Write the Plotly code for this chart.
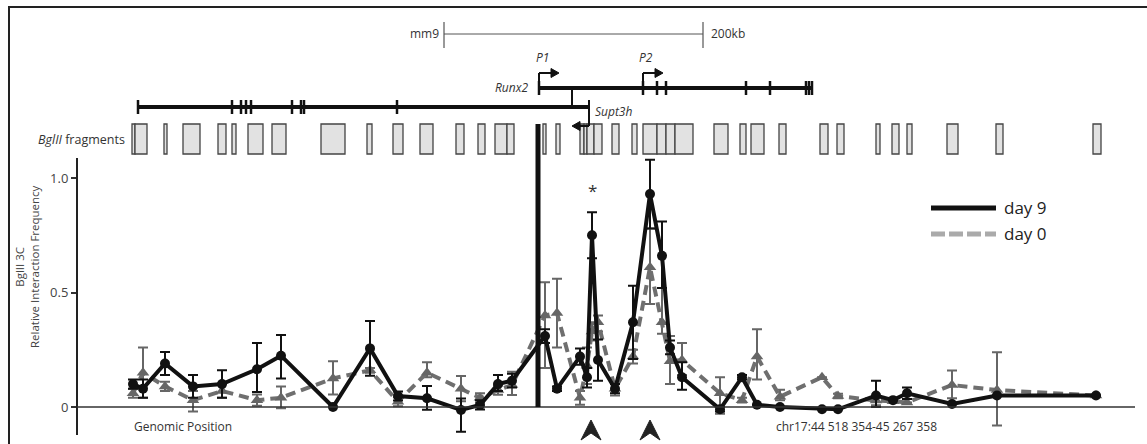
import plotly.graph_objects as go

# ---------------- data ----------------
# fragment positions (genomic position, arbitrary units along the locus)
positions = [133, 143, 165, 193, 222, 257, 281, 333, 370, 398, 427, 461, 480, 498, 512,
             545, 557, 580, 587, 592, 598, 615, 633, 650, 662, 670, 682, 720, 742, 757,
             780, 822, 838, 876, 893, 907, 952, 997, 1096]
day9 = [0.10, 0.08, 0.19, 0.09, 0.10, 0.165, 0.224, 0.0, 0.256, 0.048, 0.038, -0.013, 0.009, 0.10, 0.115,
        0.31, 0.08, 0.22, 0.13, 0.75, 0.205, 0.08, 0.37, 0.93, 0.66, 0.26, 0.13, -0.01, 0.13, 0.01,
        0.0, -0.01, -0.01, 0.05, 0.03, 0.06, 0.013, 0.05, 0.05]
day9_hi = [0.02, 0.04, 0.05, 0.05, 0.06, 0.115, 0.09, 0.0, 0.12, 0.02, 0.054, 0.05, 0.02, 0.04, 0.03,
           0.03, 0.01, 0.035, 0.04, 0.10, 0.09, 0.02, 0.16, 0.15, 0.15, 0.03, 0.065, 0.01, 0.01, 0.0,
           0.0, 0.0, 0.0, 0.065, 0.0, 0.025, 0.0, 0.0, 0.0]
day9_lo = [0.02, 0.04, 0.05, 0.05, 0.06, 0.10, 0.10, 0.0, 0.12, 0.02, 0.05, 0.095, 0.02, 0.03, 0.03,
           0.03, 0.01, 0.035, 0.045, 0.10, 0.09, 0.02, 0.16, 0.15, 0.14, 0.03, 0.055, 0.01, 0.01, 0.0,
           0.0, 0.0, 0.0, 0.05, 0.0, 0.025, 0.0, 0.0, 0.0]
day0 = [0.06, 0.15, 0.09, 0.03, 0.07, 0.03, 0.04, 0.125, 0.16, 0.023, 0.15, 0.08, 0.04, 0.074, 0.096,
        0.40, 0.41, 0.04, 0.18, 0.33, 0.37, 0.08, 0.22, 0.61, 0.37, 0.20, 0.205, 0.06, 0.03, 0.22,
        0.045, 0.13, 0.048, 0.028, 0.025, 0.02, 0.096, 0.074, 0.05]
day0_hi = [0.02, 0.11, 0.02, 0.04, 0.03, 0.025, 0.05, 0.075, 0.01, 0.02, 0.045, 0.055, 0.02, 0.02, 0.058,
           0.145, 0.15, 0.03, 0.08, 0.04, 0.03, 0.03, 0.03, 0.17, 0.15, 0.11, 0.075, 0.07, 0.01, 0.12,
           0.03, 0.0, 0.01, 0.02, 0.0, 0.0, 0.063, 0.165, 0.0]
day0_lo = [0.02, 0.11, 0.02, 0.05, 0.03, 0.025, 0.045, 0.07, 0.01, 0.02, 0.02, 0.055, 0.02, 0.02, 0.044,
           0.23, 0.15, 0.03, 0.08, 0.04, 0.04, 0.03, 0.03, 0.16, 0.05, 0.10, 0.065, 0.09, 0.01, 0.10,
           0.015, 0.0, 0.01, 0.02, 0.0, 0.0, 0.058, 0.155, 0.0]

# BglII fragments (start, end)
frag_start = [132, 135, 164, 183, 218, 232, 248, 272, 321, 367, 393, 420, 456, 478, 495, 507,
              543, 556, 580, 584, 587, 594, 612, 632, 643, 657, 666, 675, 714, 740, 751, 779,
              820, 837, 876, 892, 907, 947, 996, 1093]
frag_end = [135, 147, 167, 200, 226, 236, 263, 286, 345, 372, 403, 433, 464, 485, 507, 514,
            546, 560, 584, 587, 594, 602, 619, 637, 657, 666, 675, 693, 728, 746, 764, 786,
            828, 844, 880, 899, 912, 958, 1003, 1101]

# genes
runx2_start, runx2_end = 539, 813
runx2_exons = [539, 643, 657, 666, 746, 770, 806, 809, 812]
runx2_promoters = [539, 643]
promoter_labels = ["P1", "P2"]
supt3h_start, supt3h_end = 138, 589
supt3h_exons = [138, 232, 241, 246, 251, 292, 301, 304, 397]
viewpoint = 538
scale_bar = [444, 703]
highlighted = [591, 650]
star_pos, star_val = 592, 0.945

W, H = 1147, 444
def py(p):  # pixel row -> paper fraction
    return 1 - p / H

def px(p):
    return p / W

FONT = "Open Sans"
TXT = "#333333"

fig = go.Figure()

fig.add_trace(go.Scatter(
    x=positions, y=day0, mode="lines+markers", name="day 0", showlegend=False,
    line=dict(color="#6f6f6f", width=4, dash="10px,6px"),
    marker=dict(symbol="triangle-up", size=11, color="#666666"),
    error_y=dict(type="data", symmetric=False, array=day0_hi, arrayminus=day0_lo,
                 color="#666666", thickness=2, width=5),
    cliponaxis=False))
fig.add_trace(go.Scatter(
    x=positions, y=day9, mode="lines+markers", name="day 9", showlegend=False,
    line=dict(color="#111111", width=4),
    marker=dict(symbol="circle", size=10, color="#111111"),
    error_y=dict(type="data", symmetric=False, array=day9_hi, arrayminus=day9_lo,
                 color="#111111", thickness=2, width=5),
    cliponaxis=False))

shapes = []
# frame
shapes.append(dict(type="line", xref="paper", yref="paper", x0=px(9), x1=px(9), y0=py(6), y1=0,
                   line=dict(color="#222", width=2)))
shapes.append(dict(type="line", xref="paper", yref="paper", x0=px(8), x1=1, y0=py(7), y1=py(7),
                   line=dict(color="#222", width=2)))
# zero line
shapes.append(dict(type="line", xref="x", yref="y", x0=77, x1=1135, y0=0, y1=0,
                   line=dict(color="#333", width=1.5)))
# viewpoint
shapes.append(dict(type="line", xref="x", yref="paper", x0=viewpoint, x1=viewpoint, y0=py(407), y1=py(124),
                   line=dict(color="#111", width=5)))
# fragments
for s, e in zip(frag_start, frag_end):
    shapes.append(dict(type="rect", xref="x", yref="paper", x0=s, x1=e, y0=py(154), y1=py(124),
                       fillcolor="#e2e2e2", line=dict(color="#444", width=1.3)))
# scale bar
shapes.append(dict(type="line", xref="x", yref="paper", x0=scale_bar[0], x1=scale_bar[1], y0=py(34), y1=py(34),
                   line=dict(color="#555", width=1)))
for b in scale_bar:
    shapes.append(dict(type="line", xref="x", yref="paper", x0=b, x1=b, y0=py(22), y1=py(48),
                       line=dict(color="#555", width=1.2)))
# Runx2
shapes.append(dict(type="line", xref="x", yref="paper", x0=runx2_start, x1=runx2_end, y0=py(88), y1=py(88),
                   line=dict(color="#111", width=4)))
for e in runx2_exons:
    shapes.append(dict(type="line", xref="x", yref="paper", x0=e, x1=e, y0=py(81), y1=py(95),
                       line=dict(color="#111", width=2.5)))
for p in runx2_promoters:
    shapes.append(dict(type="line", xref="x", yref="paper", x0=p, x1=p, y0=py(88), y1=py(73),
                       line=dict(color="#111", width=2)))
    shapes.append(dict(type="line", xref="x", yref="paper", x0=p, x1=p + 13, y0=py(73), y1=py(73),
                       line=dict(color="#111", width=2)))
    shapes.append(dict(type="path", xref="x", yref="paper",
                       path=f"M{p+12},{py(68.5)} L{p+20},{py(73)} L{p+12},{py(77.5)} Z",
                       fillcolor="#111", line=dict(color="#111", width=1)))
# Supt3h
shapes.append(dict(type="line", xref="x", yref="paper", x0=supt3h_start, x1=supt3h_end, y0=py(107), y1=py(107),
                   line=dict(color="#111", width=4)))
for e in supt3h_exons:
    shapes.append(dict(type="line", xref="x", yref="paper", x0=e, x1=e, y0=py(100), y1=py(114),
                       line=dict(color="#111", width=2.5)))
shapes.append(dict(type="line", xref="x", yref="paper", x0=572, x1=572, y0=py(88), y1=py(107),
                   line=dict(color="#111", width=2)))
shapes.append(dict(type="line", xref="x", yref="paper", x0=supt3h_end, x1=supt3h_end, y0=py(100), y1=py(126),
                   line=dict(color="#111", width=2)))
shapes.append(dict(type="line", xref="x", yref="paper", x0=supt3h_end, x1=supt3h_end - 10, y0=py(126), y1=py(126),
                   line=dict(color="#111", width=2)))
shapes.append(dict(type="path", xref="x", yref="paper",
                   path=f"M{supt3h_end-9},{py(121.5)} L{supt3h_end-17},{py(126)} L{supt3h_end-9},{py(130.5)} Z",
                   fillcolor="#111", line=dict(color="#111", width=1)))
# highlighted-fragment arrowheads under the axis
for h in highlighted:
    shapes.append(dict(type="path", xref="x", yref="paper",
                       path=(f"M{h},{py(420)} L{h+10},{py(440)} L{h},{py(433)} "
                             f"L{h-10},{py(440)} Z"),
                       fillcolor="#222", line=dict(color="#222", width=1)))
# legend
shapes.append(dict(type="line", xref="paper", yref="paper", x0=px(931), x1=px(996), y0=py(208), y1=py(208),
                   line=dict(color="#111", width=5)))
shapes.append(dict(type="line", xref="paper", yref="paper", x0=px(931), x1=px(996), y0=py(234), y1=py(234),
                   line=dict(color="#aaaaaa", width=5, dash="14px,4px")))

ann = []
def text(t, x, y, xref="paper", yref="paper", anchor="center", size=12, italic=False, color=TXT, angle=0):
    ann.append(dict(text=t, x=x, y=y, xref=xref, yref=yref, xanchor=anchor, yanchor="middle",
                    showarrow=False, textangle=angle,
                    font=dict(family=FONT, size=size, color=color, style="italic" if italic else "normal")))

text("mm9", px(441), py(33), anchor="right")
text("200kb", px(709), py(33), anchor="left")
for p, lab in zip(runx2_promoters, promoter_labels):
    text(lab, p + 3, py(57), xref="x", italic=True)
text("Runx2", px(530), py(88), anchor="right", italic=True)
text("Supt3h", px(593), py(112), anchor="left", italic=True)
text("<i>BglII</i> fragments", px(127), py(139), anchor="right", size=12.5)
text("*", star_pos, star_val, xref="x", yref="y", size=17)
text("BglII 3C<br>Relative Interaction Frequency", px(27), py(267), size=11.5, angle=-90, color="#444")
text("Genomic Position", px(132), py(426), anchor="left", size=12)
text("chr17:44 518 354-45 267 358", px(774), py(426), anchor="left", size=12)
text("day 9", px(1002), py(207), anchor="left", size=17, color="#222")
text("day 0", px(1002), py(233), anchor="left", size=17, color="#222")

fig.update_layout(
    width=W, height=H, margin=dict(l=0, r=0, t=0, b=0),
    paper_bgcolor="white", plot_bgcolor="rgba(0,0,0,0)",
    shapes=shapes, annotations=ann,
    font=dict(family=FONT, color=TXT),
    xaxis=dict(domain=[77 / W, 1135 / W], range=[77, 1135], visible=False),
    yaxis=dict(domain=[(H - 435) / H, (H - 158) / H], range=[(407 - 435) / 229, (407 - 158) / 229],
               anchor="free", position=77 / W, showgrid=False, zeroline=False,
               showline=True, linecolor="#222", linewidth=2,
               ticks="outside", ticklen=5, tickwidth=1.5, tickcolor="#333",
               tickvals=[0, 0.5, 1.0], ticktext=["0", "0.5", "1.0"],
               tickfont=dict(family=FONT, size=13, color="#444")),
)

fig.write_html("out.html", config={"displayModeBar": False},
               post_script="document.body.style.margin='0';document.body.style.overflow='hidden';")
